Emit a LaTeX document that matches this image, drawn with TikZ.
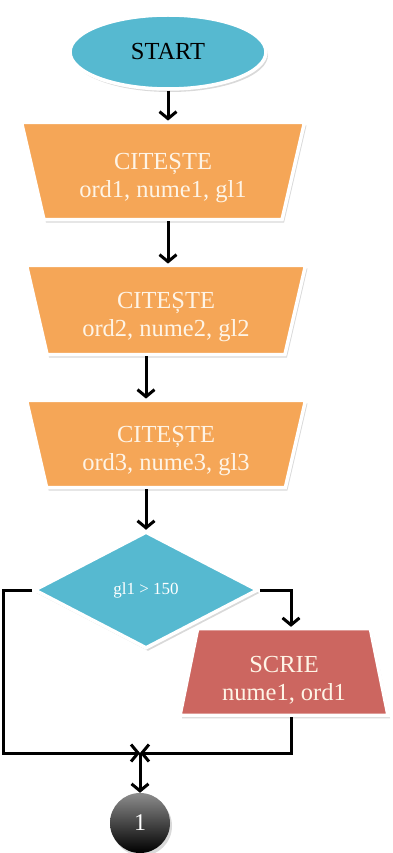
\documentclass[tikz,border=0pt]{standalone}
\usepackage{fontspec}
\setmainfont{Liberation Serif}
\usetikzlibrary{shapes.geometric,arrows.meta,shadows}
\definecolor{startblue}{RGB}{86,185,208}
\definecolor{readorange}{RGB}{245,166,87}
\definecolor{writered}{RGB}{204,102,96}
\definecolor{cream}{RGB}{254,244,230}

\tikzset{
    box/.style={draw=white, line width=3.5pt, align=center,
        font=\fontsize{24.5}{28}\selectfont,
        drop shadow={shadow xshift=2pt, shadow yshift=-3pt, opacity=0.3}},
    startbox/.style={box, ellipse, fill=startblue, minimum width=196pt, minimum height=74pt},
    readbox/.style={box, trapezium, trapezium stretches body, shape border rotate=180,
        trapezium angle=77, fill=readorange, text=cream, text height=58pt},
    decbox/.style={box, diamond, fill=startblue, text=white,
        minimum width=224pt, minimum height=117pt, inner sep=0pt,
        font=\fontsize{17}{20}\selectfont},
    writebox/.style={box, trapezium, trapezium stretches body,
        trapezium angle=78.5, fill=writered, text=cream, text height=60pt},
    connbox/.style={circle, minimum size=60pt, top color=black!45, bottom color=black,
        text=white, font=\fontsize{24}{28}\selectfont,
        drop shadow={shadow xshift=2pt, shadow yshift=-3pt, opacity=0.3}},
    arr/.style={line width=3pt, -{Straight Barb[length=7pt,width=17pt]}}
}

\begin{document}
\begin{tikzpicture}[x=1pt, y=1pt]
    \useasboundingbox (0,0) rectangle (392,-853);

    % Blocks
    \node[startbox] (start) at (168,-52) {START};
    \node[readbox, inner ysep=17pt, minimum width=283pt] (read1) at (163,-171)
        {CITEȘTE\\ord1, nume1, gl1};
    \node[readbox, inner ysep=13pt, minimum width=279pt] (read2) at (166,-310)
        {CITEȘTE\\ord2, nume2, gl2};
    \node[readbox, inner ysep=12pt, minimum width=279pt] (read3) at (166,-444)
        {CITEȘTE\\ord3, nume3, gl3};
    \node[decbox] (dec) at (146,-590) {gl1 > 150};
    \node[writebox, inner ysep=11.5pt, minimum width=208pt] (scrie) at (284,-672)
        {SCRIE\\nume1, ord1};
    \node[connbox] (conn) at (140,-823) {1};

    % Helper points
    \coordinate (lcol) at (3,-590);
    \coordinate (rcol) at (291,-590);
    \coordinate (join) at (140,-753);

    % Connectors
    \draw[arr] (start.south) -- (start.south |- read1.north);
    \draw[arr] (read1.south -| start) -- (read2.north -| start);
    \draw[arr] (read2.south -| dec) -- (read3.north -| dec);
    \draw[arr] (read3.south -| dec) -- (dec.north);
    \draw[arr] (dec.east) -| (rcol |- scrie.north);
    \draw[arr] (dec.west) -- (lcol) |- (join);
    \draw[arr] (rcol |- scrie.south) |- (join);
    \draw[arr] (join) -- (conn.north);
\end{tikzpicture}
\end{document}
